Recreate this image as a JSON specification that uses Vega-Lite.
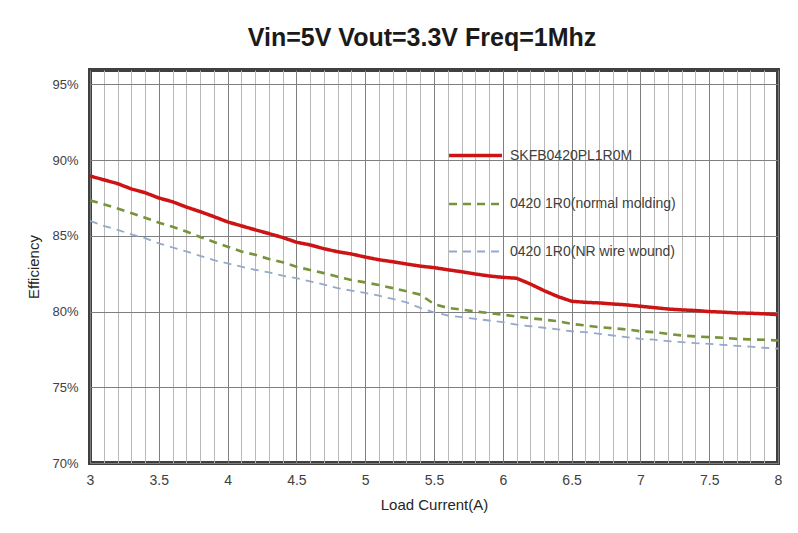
{
  "$schema": "https://vega.github.io/schema/vega-lite/v6.json",
  "width": 688,
  "height": 393,
  "autosize": {"type": "none"},
  "padding": {"left": 90, "top": 70, "right": 20, "bottom": 70},
  "background": "white",
  "title": {
    "text": "Vin=5V Vout=3.3V Freq=1Mhz",
    "font": "Liberation Sans",
    "fontSize": 25,
    "fontWeight": "bold",
    "color": "#1a1a1a",
    "anchor": "middle",
    "dx": -12,
    "offset": 19
  },
  "config": {
    "font": "Liberation Sans",
    "view": {"stroke": "#404040", "strokeWidth": 4},
    "axis": {"domain": false, "ticks": false, "labelColor": "#404040", "titleColor": "#262626", "titleFontWeight": "normal", "titleFontSize": 15}
  },
  "data": {
    "values": [
      {"s": "SKFB0420PL1R0M", "x": 3.0, "y": 88.95}, {"s": "SKFB0420PL1R0M", "x": 3.1, "y": 88.7}, {"s": "SKFB0420PL1R0M", "x": 3.2, "y": 88.45},
      {"s": "SKFB0420PL1R0M", "x": 3.3, "y": 88.1}, {"s": "SKFB0420PL1R0M", "x": 3.4, "y": 87.85}, {"s": "SKFB0420PL1R0M", "x": 3.5, "y": 87.5},
      {"s": "SKFB0420PL1R0M", "x": 3.6, "y": 87.25}, {"s": "SKFB0420PL1R0M", "x": 3.7, "y": 86.9}, {"s": "SKFB0420PL1R0M", "x": 3.8, "y": 86.6},
      {"s": "SKFB0420PL1R0M", "x": 3.9, "y": 86.27}, {"s": "SKFB0420PL1R0M", "x": 4.0, "y": 85.92}, {"s": "SKFB0420PL1R0M", "x": 4.1, "y": 85.66},
      {"s": "SKFB0420PL1R0M", "x": 4.2, "y": 85.4}, {"s": "SKFB0420PL1R0M", "x": 4.3, "y": 85.15}, {"s": "SKFB0420PL1R0M", "x": 4.4, "y": 84.89},
      {"s": "SKFB0420PL1R0M", "x": 4.5, "y": 84.58}, {"s": "SKFB0420PL1R0M", "x": 4.6, "y": 84.4}, {"s": "SKFB0420PL1R0M", "x": 4.7, "y": 84.15},
      {"s": "SKFB0420PL1R0M", "x": 4.8, "y": 83.95}, {"s": "SKFB0420PL1R0M", "x": 4.9, "y": 83.8}, {"s": "SKFB0420PL1R0M", "x": 5.0, "y": 83.6},
      {"s": "SKFB0420PL1R0M", "x": 5.1, "y": 83.42}, {"s": "SKFB0420PL1R0M", "x": 5.2, "y": 83.29}, {"s": "SKFB0420PL1R0M", "x": 5.3, "y": 83.14},
      {"s": "SKFB0420PL1R0M", "x": 5.4, "y": 83.0}, {"s": "SKFB0420PL1R0M", "x": 5.5, "y": 82.9}, {"s": "SKFB0420PL1R0M", "x": 5.6, "y": 82.76},
      {"s": "SKFB0420PL1R0M", "x": 5.7, "y": 82.63}, {"s": "SKFB0420PL1R0M", "x": 5.8, "y": 82.48}, {"s": "SKFB0420PL1R0M", "x": 5.9, "y": 82.35},
      {"s": "SKFB0420PL1R0M", "x": 6.0, "y": 82.26}, {"s": "SKFB0420PL1R0M", "x": 6.1, "y": 82.2}, {"s": "SKFB0420PL1R0M", "x": 6.2, "y": 81.82},
      {"s": "SKFB0420PL1R0M", "x": 6.3, "y": 81.38}, {"s": "SKFB0420PL1R0M", "x": 6.4, "y": 80.99}, {"s": "SKFB0420PL1R0M", "x": 6.5, "y": 80.68},
      {"s": "SKFB0420PL1R0M", "x": 6.6, "y": 80.61}, {"s": "SKFB0420PL1R0M", "x": 6.7, "y": 80.57}, {"s": "SKFB0420PL1R0M", "x": 6.8, "y": 80.5},
      {"s": "SKFB0420PL1R0M", "x": 6.9, "y": 80.44}, {"s": "SKFB0420PL1R0M", "x": 7.0, "y": 80.35}, {"s": "SKFB0420PL1R0M", "x": 7.1, "y": 80.26},
      {"s": "SKFB0420PL1R0M", "x": 7.2, "y": 80.17}, {"s": "SKFB0420PL1R0M", "x": 7.3, "y": 80.11}, {"s": "SKFB0420PL1R0M", "x": 7.4, "y": 80.07},
      {"s": "SKFB0420PL1R0M", "x": 7.5, "y": 80.0}, {"s": "SKFB0420PL1R0M", "x": 7.6, "y": 79.96}, {"s": "SKFB0420PL1R0M", "x": 7.7, "y": 79.91},
      {"s": "SKFB0420PL1R0M", "x": 7.8, "y": 79.89}, {"s": "SKFB0420PL1R0M", "x": 7.9, "y": 79.85}, {"s": "SKFB0420PL1R0M", "x": 8.0, "y": 79.8},

      {"s": "0420 1R0(normal molding)", "x": 3.0, "y": 87.35}, {"s": "0420 1R0(normal molding)", "x": 3.1, "y": 87.08}, {"s": "0420 1R0(normal molding)", "x": 3.2, "y": 86.8},
      {"s": "0420 1R0(normal molding)", "x": 3.3, "y": 86.5}, {"s": "0420 1R0(normal molding)", "x": 3.4, "y": 86.2}, {"s": "0420 1R0(normal molding)", "x": 3.5, "y": 85.87},
      {"s": "0420 1R0(normal molding)", "x": 3.6, "y": 85.6}, {"s": "0420 1R0(normal molding)", "x": 3.7, "y": 85.28}, {"s": "0420 1R0(normal molding)", "x": 3.8, "y": 84.93},
      {"s": "0420 1R0(normal molding)", "x": 3.9, "y": 84.6}, {"s": "0420 1R0(normal molding)", "x": 4.0, "y": 84.28}, {"s": "0420 1R0(normal molding)", "x": 4.1, "y": 83.97},
      {"s": "0420 1R0(normal molding)", "x": 4.2, "y": 83.75}, {"s": "0420 1R0(normal molding)", "x": 4.3, "y": 83.47}, {"s": "0420 1R0(normal molding)", "x": 4.4, "y": 83.25},
      {"s": "0420 1R0(normal molding)", "x": 4.5, "y": 82.96}, {"s": "0420 1R0(normal molding)", "x": 4.6, "y": 82.74}, {"s": "0420 1R0(normal molding)", "x": 4.7, "y": 82.54},
      {"s": "0420 1R0(normal molding)", "x": 4.8, "y": 82.3}, {"s": "0420 1R0(normal molding)", "x": 4.9, "y": 82.08}, {"s": "0420 1R0(normal molding)", "x": 5.0, "y": 81.93},
      {"s": "0420 1R0(normal molding)", "x": 5.1, "y": 81.75}, {"s": "0420 1R0(normal molding)", "x": 5.2, "y": 81.55}, {"s": "0420 1R0(normal molding)", "x": 5.3, "y": 81.34},
      {"s": "0420 1R0(normal molding)", "x": 5.4, "y": 81.12}, {"s": "0420 1R0(normal molding)", "x": 5.5, "y": 80.5}, {"s": "0420 1R0(normal molding)", "x": 5.6, "y": 80.24},
      {"s": "0420 1R0(normal molding)", "x": 5.7, "y": 80.13}, {"s": "0420 1R0(normal molding)", "x": 5.8, "y": 80.0}, {"s": "0420 1R0(normal molding)", "x": 5.9, "y": 79.9},
      {"s": "0420 1R0(normal molding)", "x": 6.0, "y": 79.8}, {"s": "0420 1R0(normal molding)", "x": 6.1, "y": 79.67}, {"s": "0420 1R0(normal molding)", "x": 6.2, "y": 79.56},
      {"s": "0420 1R0(normal molding)", "x": 6.3, "y": 79.47}, {"s": "0420 1R0(normal molding)", "x": 6.4, "y": 79.36}, {"s": "0420 1R0(normal molding)", "x": 6.5, "y": 79.19},
      {"s": "0420 1R0(normal molding)", "x": 6.6, "y": 79.08}, {"s": "0420 1R0(normal molding)", "x": 6.7, "y": 78.97}, {"s": "0420 1R0(normal molding)", "x": 6.8, "y": 78.9},
      {"s": "0420 1R0(normal molding)", "x": 6.9, "y": 78.82}, {"s": "0420 1R0(normal molding)", "x": 7.0, "y": 78.7}, {"s": "0420 1R0(normal molding)", "x": 7.1, "y": 78.64},
      {"s": "0420 1R0(normal molding)", "x": 7.2, "y": 78.53}, {"s": "0420 1R0(normal molding)", "x": 7.3, "y": 78.42}, {"s": "0420 1R0(normal molding)", "x": 7.4, "y": 78.36},
      {"s": "0420 1R0(normal molding)", "x": 7.5, "y": 78.31}, {"s": "0420 1R0(normal molding)", "x": 7.6, "y": 78.27}, {"s": "0420 1R0(normal molding)", "x": 7.7, "y": 78.2},
      {"s": "0420 1R0(normal molding)", "x": 7.8, "y": 78.16}, {"s": "0420 1R0(normal molding)", "x": 7.9, "y": 78.14}, {"s": "0420 1R0(normal molding)", "x": 8.0, "y": 78.09},

      {"s": "0420 1R0(NR wire wound)", "x": 3.0, "y": 85.99}, {"s": "0420 1R0(NR wire wound)", "x": 3.1, "y": 85.66}, {"s": "0420 1R0(NR wire wound)", "x": 3.2, "y": 85.4},
      {"s": "0420 1R0(NR wire wound)", "x": 3.3, "y": 85.1}, {"s": "0420 1R0(NR wire wound)", "x": 3.4, "y": 84.85}, {"s": "0420 1R0(NR wire wound)", "x": 3.5, "y": 84.5},
      {"s": "0420 1R0(NR wire wound)", "x": 3.6, "y": 84.23}, {"s": "0420 1R0(NR wire wound)", "x": 3.7, "y": 83.97}, {"s": "0420 1R0(NR wire wound)", "x": 3.8, "y": 83.68},
      {"s": "0420 1R0(NR wire wound)", "x": 3.9, "y": 83.4}, {"s": "0420 1R0(NR wire wound)", "x": 4.0, "y": 83.18}, {"s": "0420 1R0(NR wire wound)", "x": 4.1, "y": 82.96},
      {"s": "0420 1R0(NR wire wound)", "x": 4.2, "y": 82.76}, {"s": "0420 1R0(NR wire wound)", "x": 4.3, "y": 82.59}, {"s": "0420 1R0(NR wire wound)", "x": 4.4, "y": 82.37},
      {"s": "0420 1R0(NR wire wound)", "x": 4.5, "y": 82.2}, {"s": "0420 1R0(NR wire wound)", "x": 4.6, "y": 82.0}, {"s": "0420 1R0(NR wire wound)", "x": 4.7, "y": 81.78},
      {"s": "0420 1R0(NR wire wound)", "x": 4.8, "y": 81.55}, {"s": "0420 1R0(NR wire wound)", "x": 4.9, "y": 81.38}, {"s": "0420 1R0(NR wire wound)", "x": 5.0, "y": 81.23},
      {"s": "0420 1R0(NR wire wound)", "x": 5.1, "y": 81.05}, {"s": "0420 1R0(NR wire wound)", "x": 5.2, "y": 80.83}, {"s": "0420 1R0(NR wire wound)", "x": 5.3, "y": 80.61},
      {"s": "0420 1R0(NR wire wound)", "x": 5.4, "y": 80.24}, {"s": "0420 1R0(NR wire wound)", "x": 5.5, "y": 79.95}, {"s": "0420 1R0(NR wire wound)", "x": 5.6, "y": 79.74},
      {"s": "0420 1R0(NR wire wound)", "x": 5.7, "y": 79.63}, {"s": "0420 1R0(NR wire wound)", "x": 5.8, "y": 79.52}, {"s": "0420 1R0(NR wire wound)", "x": 5.9, "y": 79.41},
      {"s": "0420 1R0(NR wire wound)", "x": 6.0, "y": 79.3}, {"s": "0420 1R0(NR wire wound)", "x": 6.1, "y": 79.14}, {"s": "0420 1R0(NR wire wound)", "x": 6.2, "y": 79.03},
      {"s": "0420 1R0(NR wire wound)", "x": 6.3, "y": 78.93}, {"s": "0420 1R0(NR wire wound)", "x": 6.4, "y": 78.82}, {"s": "0420 1R0(NR wire wound)", "x": 6.5, "y": 78.7},
      {"s": "0420 1R0(NR wire wound)", "x": 6.6, "y": 78.64}, {"s": "0420 1R0(NR wire wound)", "x": 6.7, "y": 78.53}, {"s": "0420 1R0(NR wire wound)", "x": 6.8, "y": 78.42},
      {"s": "0420 1R0(NR wire wound)", "x": 6.9, "y": 78.31}, {"s": "0420 1R0(NR wire wound)", "x": 7.0, "y": 78.2}, {"s": "0420 1R0(NR wire wound)", "x": 7.1, "y": 78.14},
      {"s": "0420 1R0(NR wire wound)", "x": 7.2, "y": 78.05}, {"s": "0420 1R0(NR wire wound)", "x": 7.3, "y": 77.98}, {"s": "0420 1R0(NR wire wound)", "x": 7.4, "y": 77.91},
      {"s": "0420 1R0(NR wire wound)", "x": 7.5, "y": 77.87}, {"s": "0420 1R0(NR wire wound)", "x": 7.6, "y": 77.8}, {"s": "0420 1R0(NR wire wound)", "x": 7.7, "y": 77.74},
      {"s": "0420 1R0(NR wire wound)", "x": 7.8, "y": 77.68}, {"s": "0420 1R0(NR wire wound)", "x": 7.9, "y": 77.61}, {"s": "0420 1R0(NR wire wound)", "x": 8.0, "y": 77.55}
    ]
  },
  "mark": {"type": "line", "clip": true},
  "encoding": {
    "x": {
      "field": "x",
      "type": "quantitative",
      "title": "Load Current(A)",
      "scale": {"domain": [3, 8], "nice": false, "zero": false},
      "axis": {
        "values": [3, 3.1, 3.2, 3.3, 3.4, 3.5, 3.6, 3.7, 3.8, 3.9, 4, 4.1, 4.2, 4.3, 4.4, 4.5, 4.6, 4.7, 4.8, 4.9, 5, 5.1, 5.2, 5.3, 5.4, 5.5, 5.6, 5.7, 5.8, 5.9, 6, 6.1, 6.2, 6.3, 6.4, 6.5, 6.6, 6.7, 6.8, 6.9, 7, 7.1, 7.2, 7.3, 7.4, 7.5, 7.6, 7.7, 7.8, 7.9, 8],
        "labelExpr": "abs(datum.value * 2 - round(datum.value * 2)) < 0.01 ? format(datum.value, '~g') : ''",
        "labelOverlap": false,
        "labelFontSize": 14,
        "labelPadding": 10,
        "labelFlush": false,
        "titlePadding": 10,
        "grid": true,
        "gridColor": {"condition": {"test": "abs(datum.value * 2 - round(datum.value * 2)) < 0.01", "value": "#7f7f7f"}, "value": "#b8b8b8"},
        "gridWidth": 1
      }
    },
    "y": {
      "field": "y",
      "type": "quantitative",
      "title": "Efficiency",
      "scale": {"domain": [70, 95.95], "nice": false, "zero": false},
      "axis": {
        "values": [70, 75, 80, 85, 90, 95],
        "labelExpr": "datum.value + '%'",
        "labelFontSize": 13,
        "labelPadding": 12,
        "titlePadding": 10,
        "grid": true,
        "gridColor": "#7f7f7f",
        "gridWidth": 1
      }
    },
    "color": {
      "field": "s",
      "type": "nominal",
      "sort": ["SKFB0420PL1R0M", "0420 1R0(normal molding)", "0420 1R0(NR wire wound)"],
      "scale": {"domain": ["SKFB0420PL1R0M", "0420 1R0(normal molding)", "0420 1R0(NR wire wound)"], "range": ["#CC1414", "#77933C", "#95A9CB"]},
      "legend": {
        "title": null,
        "orient": "none",
        "legendX": 357,
        "legendY": 57,
        "symbolType": "stroke",
        "symbolSize": 2800,
        "labelFontSize": 14,
        "labelColor": "#404040",
        "labelOffset": 6,
        "labelLimit": 300,
        "rowPadding": 13
      }
    },
    "strokeDash": {
      "field": "s",
      "type": "nominal",
      "sort": ["SKFB0420PL1R0M", "0420 1R0(normal molding)", "0420 1R0(NR wire wound)"],
      "scale": {"domain": ["SKFB0420PL1R0M", "0420 1R0(normal molding)", "0420 1R0(NR wire wound)"], "range": [[1, 0], [8, 6], [8, 6]]},
      "legend": {"title": null}
    },
    "strokeWidth": {
      "field": "s",
      "type": "nominal",
      "sort": ["SKFB0420PL1R0M", "0420 1R0(normal molding)", "0420 1R0(NR wire wound)"],
      "scale": {"domain": ["SKFB0420PL1R0M", "0420 1R0(normal molding)", "0420 1R0(NR wire wound)"], "range": [3.5, 1.8, 1.8]},
      "legend": {"title": null}
    }
  }
}
